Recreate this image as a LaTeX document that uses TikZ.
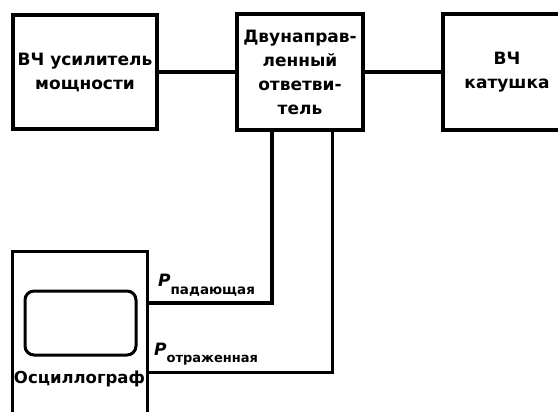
\documentclass[tikz,border=0pt]{standalone}
\usepackage{fontspec}
\setmainfont{DejaVu Sans}
\begin{document}
\begin{tikzpicture}[x=1pt,y=-1pt,
  blk/.style={draw, line width=4pt, align=center, font=\fontsize{17}{24}\selectfont\bfseries, inner sep=0pt},
  wire/.style={line width=4pt},
  thinwire/.style={line width=3pt},
  lbl/.style={anchor=base west, inner sep=0pt, font=\fontsize{17}{17}\selectfont\bfseries\itshape},
  subl/.style={font=\fontsize{13.5}{13}\selectfont\bfseries\upshape}]
\useasboundingbox (0,0) rectangle (558,412);
\node[blk, minimum width=144pt, minimum height=114pt] (amp) at (85,72) {ВЧ усилитель\\мощности};
\node[blk, minimum width=126pt, minimum height=116pt] (coupler) at (300,72) {Двунаправ-\\ленный\\ответви-\\тель};
\node[blk, minimum width=128pt, minimum height=116pt, text width=120pt] (coil) at (507,72) {ВЧ\\катушка};
\node[draw, line width=3pt, minimum width=135pt, minimum height=180pt, inner sep=0pt] (osc) at (79.5,341) {};
\node[draw, line width=3pt, rounded corners=9pt, minimum width=111pt, minimum height=64pt] (screen) at (80.5,323) {};
\node[font=\fontsize{16.5}{16}\selectfont\bfseries, inner sep=0pt] (osclbl) at (79.5,379) {Осциллограф};
\draw[wire] (amp.east) -- (coupler.west);
\draw[wire] (coupler.east) -- (coil.west);
\coordinate (pa) at (147,303);
\coordinate (pr) at (147,372);
\draw[wire] ([xshift=-28pt]coupler.south) |- (pa);
\draw[thinwire] ([xshift=32pt]coupler.south) |- (pr);
\node[lbl] (lpa) at (158,287) {P\raisebox{-8pt}{\fontsize{13.5}{13}\selectfont\upshape падающая}};
\node[lbl] (lpr) at (154,355) {P\raisebox{-7pt}{\fontsize{13}{13}\selectfont\upshape отраженная}};
\end{tikzpicture}
\end{document}
